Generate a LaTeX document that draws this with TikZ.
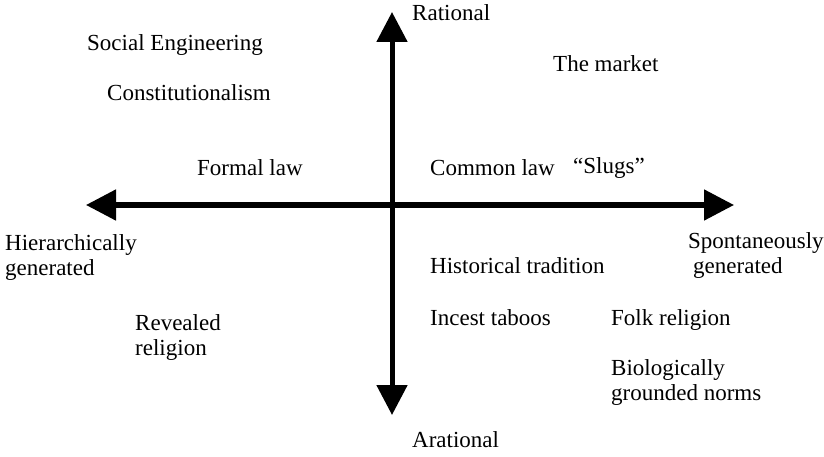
\documentclass[tikz,border=0pt]{standalone}
\usepackage{fontspec}
\setmainfont{Liberation Serif}
\usetikzlibrary{arrows.meta}

\begin{document}
\begin{tikzpicture}[x=1pt,y=-1pt,axis/.style={line width=5pt,-{Triangle[length=30pt,width=30pt]}},
  lbl/.style={inner sep=0pt,anchor=base west,align=left,font=\fontsize{23}{25}\selectfont}]
\useasboundingbox (0,0) rectangle (824,457);
\coordinate (o) at (392,205);
\coordinate (top) at (392,12);
\coordinate (bot) at (392,415);
\coordinate (lft) at (86,205);
\coordinate (rgt) at (734,205);

\draw[axis] (o) -- (top);
\draw[axis] (o) -- (bot);
\draw[axis] (o) -- (lft);
\draw[axis] (o) -- (rgt);

\node[lbl] (rat) at (412,21) {Rational};
\node[lbl] (arat) at (412,447) {Arational};
\node[lbl] (hier) at (5,275) {Hierarchically\\generated};
\node[lbl] (spon) at (688,273) {Spontaneously\\\hspace{5pt}generated};

\node[lbl] (soc) at (87,51) {Social Engineering};
\node[lbl] (const) at (107,101) {Constitutionalism};
\node[lbl] (formal) at (197,176) {Formal law};
\node[lbl] (market) at (553,72) {The market};
\node[lbl] (common) at (430,176) {Common law};
\node[lbl] (slugs) at (573,174) {``Slugs''};
\node[lbl] (hist) at (430,273) {Historical tradition};
\node[lbl] (incest) at (430,325) {Incest taboos};
\node[lbl] (folk) at (611,325) {Folk religion};
\node[lbl] (rev) at (135,355) {Revealed\\religion};
\node[lbl] (bio) at (611,400) {Biologically\\grounded norms};
\end{tikzpicture}
\end{document}
